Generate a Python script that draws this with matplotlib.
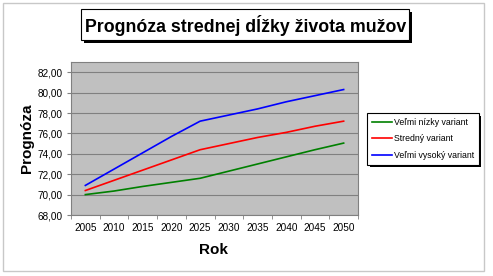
import matplotlib
matplotlib.use("Agg")
import matplotlib.pyplot as plt
from matplotlib.patches import Rectangle

plt.rcParams['font.family'] = ['Liberation Sans', 'DejaVu Sans']

roky = ['2005', '2010', '2015', '2020', '2025', '2030', '2035', '2040', '2045', '2050']
nizky = [70.0, 70.35, 70.8, 71.2, 71.6, 72.3, 73.0, 73.7, 74.4, 75.05]
stredny = [70.4, 71.4, 72.4, 73.4, 74.4, 75.0, 75.6, 76.1, 76.7, 77.2]
vysoky = [70.9, 72.5, 74.1, 75.7, 77.2, 77.8, 78.4, 79.1, 79.7, 80.3]
y_ticks = [68, 70, 72, 74, 76, 78, 80, 82]

W, H = 493, 276
fig = plt.figure(figsize=(W / 100, H / 100), dpi=100)

def fx(px):
    return px / W

def fy(py):
    return 1 - py / H

# outer chart border
fig.patches.append(Rectangle((fx(3), fy(271)), fx(481), 268 / H, transform=fig.transFigure,
                             facecolor='none', edgecolor='#c8c8c8', lw=1, zorder=-1))

ax = fig.add_axes([fx(71), fy(215), fx(287), 153 / H])
ax.set_zorder(2)
ax.set_facecolor('#c0c0c0')
x = list(range(len(roky)))
ax.plot(x, nizky, color='#008000', lw=1.2, label='Veľmi nízky variant')
ax.plot(x, stredny, color='#ff0000', lw=1.2, label='Stredný variant')
ax.plot(x, vysoky, color='#0000ff', lw=1.2, label='Veľmi vysoký variant')

ax.set_xlim(-0.5, len(roky) - 0.5)
ax.set_ylim(68, 83)
ax.set_yticks(y_ticks)
ax.set_yticklabels([('%.2f' % v).replace('.', ',') for v in y_ticks], fontsize=7.2)
ax.set_xticks(x)
ax.set_xticklabels(roky, fontsize=7.2)
ax.set_xticks([i - 0.5 for i in range(len(roky) + 1)], minor=True)
ax.tick_params(axis='x', which='major', length=0, pad=6)
ax.tick_params(axis='x', which='minor', length=3, color='#808080')
ax.tick_params(axis='y', length=3, color='#808080', pad=3)
ax.grid(axis='y', color='#808080', lw=0.8)
ax.set_axisbelow(True)
for s in ax.spines.values():
    s.set_color('#808080')
    s.set_linewidth(0.8)

fig.text(fx(27), fy(138), 'Prognóza', rotation=90, fontsize=11, fontweight='bold',
         ha='center', va='center')
fig.text(fx(214), fy(250), 'Rok', fontsize=11, fontweight='bold', ha='center', va='center')

# title box with shadow
fig.patches.append(Rectangle((fx(84), fy(43)), fx(328), 31 / H, transform=fig.transFigure,
                             facecolor='black', edgecolor='black', lw=0, zorder=1))
fig.patches.append(Rectangle((fx(81), fy(40)), fx(328), 31 / H, transform=fig.transFigure,
                             facecolor='white', edgecolor='black', lw=0.8, zorder=2))
fig.text(fx(245.5), fy(25), 'Prognóza strednej dĺžky života mužov', fontsize=12.8,
         fontweight='bold', ha='center', va='center', zorder=3)

# legend with shadow
leg = fig.legend(loc='upper left', bbox_to_anchor=(fx(367), fy(113)), fontsize=6.3,
                 frameon=True, fancybox=False, edgecolor='black', framealpha=1,
                 borderaxespad=0, handlelength=2.3, handletextpad=0.2,
                 labelspacing=0.85, borderpad=0.55)
leg.get_frame().set_linewidth(0.8)
leg.set_zorder(5)
fig.canvas.draw()
bb = leg.get_window_extent().transformed(fig.transFigure.inverted())
fig.patches.append(Rectangle((bb.x0 + fx(2.5), bb.y0 - 2.5 / H), bb.width, bb.height,
                             transform=fig.transFigure, facecolor='black', lw=0, zorder=4))

fig.savefig('out.png', dpi=100)
